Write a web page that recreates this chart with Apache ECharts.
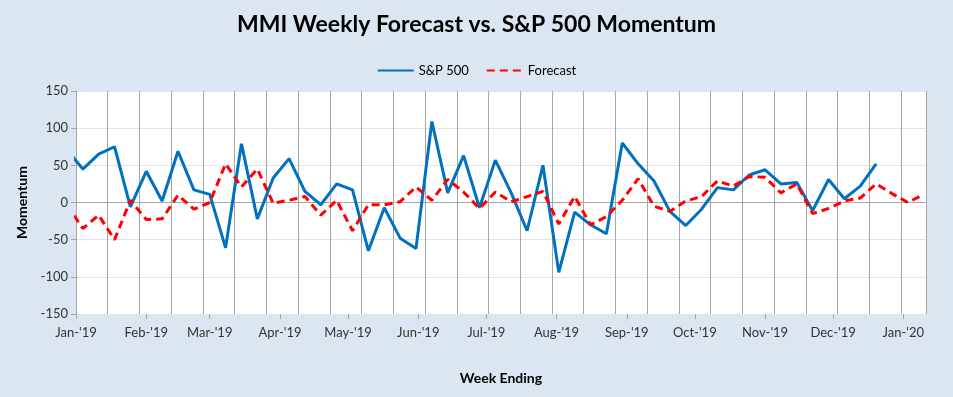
<!DOCTYPE html>
<html>
<head>
<meta charset="utf-8">
<script src="https://cdn.jsdelivr.net/npm/echarts@6/dist/echarts.min.js"></script>
<style>
  html, body { margin: 0; padding: 0; background: #dce6f2; }
  #chart { width: 953px; height: 397px; }
</style>
</head>
<body>
<div id="chart"></div>
<script>
// week ending dates (Fridays); first one sits just before the axis start and gets clipped
const weekDates = [
  '2018-12-28', '2019-01-04', '2019-01-11', '2019-01-18', '2019-01-25',
  '2019-02-01', '2019-02-08', '2019-02-15', '2019-02-22', '2019-03-01',
  '2019-03-08', '2019-03-15', '2019-03-22', '2019-03-29', '2019-04-05',
  '2019-04-12', '2019-04-19', '2019-04-26', '2019-05-03', '2019-05-10',
  '2019-05-17', '2019-05-24', '2019-05-31', '2019-06-07', '2019-06-14',
  '2019-06-21', '2019-06-28', '2019-07-05', '2019-07-12', '2019-07-19',
  '2019-07-26', '2019-08-02', '2019-08-09', '2019-08-16', '2019-08-23',
  '2019-08-30', '2019-09-06', '2019-09-13', '2019-09-20', '2019-09-27',
  '2019-10-04', '2019-10-11', '2019-10-18', '2019-10-25', '2019-11-01',
  '2019-11-08', '2019-11-15', '2019-11-22', '2019-11-29', '2019-12-06',
  '2019-12-13', '2019-12-20', '2019-12-27', '2020-01-03', '2020-01-10'
]

const spValues = [
  71, 45, 65, 75, -6, 42, 2, 69, 17, 11,
  -61, 79, -22, 33, 59, 15, -3, 25, 17, -65,
  -7, -48, -62, 109, 13, 63, -7, 57, 13, -38,
  50, -94, -13, -30, -42, 80, 52, 29, -12, -31,
  -9, 20, 17, 37, 44, 25, 27, -11, 31, 5,
  22, 52, null, null, null
]

const forecastValues = [
  -3, -35, -17, -50, 3, -23, -22, 10, -9, 0,
  52, 21, 45, -1, 3, 8, -17, 3, -38, -3,
  -3, 1, 21, 3, 31, 14, -8, 14, 1, 8,
  15, -29, 8, -30, -19, 3, 32, -5, -12, 2,
  8, 29, 22, 35, 34, 13, 25, -15, -8, 2,
  6, 25, 12, 0, 11
]

const monthStarts = [
  '2019-01-01', '2019-02-01', '2019-03-01', '2019-04-01', '2019-05-01',
  '2019-06-01', '2019-07-01', '2019-08-01', '2019-09-01', '2019-10-01',
  '2019-11-01', '2019-12-01', '2020-01-01'
]
const monthLabels = [
  "Jan-'19", "Feb-'19", "Mar-'19", "Apr-'19", "May-'19", "Jun-'19",
  "Jul-'19", "Aug-'19", "Sep-'19", "Oct-'19", "Nov-'19", "Dec-'19", "Jan-'20"
]

const axisStart = '2019-01-01'
const axisEndDay = 375

const dayOf = (d) => Math.round((Date.parse(d) - Date.parse(axisStart)) / 864e5)

const monthDays = monthStarts.map(dayOf)
const toPairs = (vals) => weekDates.map((d, i) => [dayOf(d), vals[i]])

const FONT = 'Lato, "Open Sans", sans-serif'

const chart = echarts.init(document.getElementById('chart'))

const option = {
  backgroundColor: '#dce6f2',
  animation: false,
  textStyle: { fontFamily: FONT },
  title: {
    text: 'MMI Weekly Forecast vs. S&P 500 Momentum',
    left: 'center',
    top: 8,
    textStyle: { fontFamily: FONT, fontSize: 23, fontWeight: 'bold', color: '#000' },
  },
  legend: {
    top: 59,
    left: 'center',
    itemWidth: 36,
    itemHeight: 12,
    itemGap: 17,
    itemStyle: { opacity: 0 },
    textStyle: { fontFamily: FONT, fontSize: 13, color: '#000' },
    data: ['S&P 500', 'Forecast'],
  },
  grid: {
    left: 76,
    right: 27,
    top: 91,
    bottom: 83,
    show: true,
    backgroundColor: '#fff',
    borderWidth: 0,
  },
  xAxis: [
    {
      // biweekly gridlines
      type: 'value',
      min: 0,
      max: axisEndDay,
      interval: 14,
      axisLine: { show: true, lineStyle: { color: '#a6a6a6', width: 1 } },
      axisTick: { show: false },
      axisLabel: { show: false },
      splitLine: { show: true, lineStyle: { color: '#a6a6a6', width: 1 } },
      name: 'Week Ending',
      nameLocation: 'middle',
      nameGap: 57,
      nameTextStyle: { fontFamily: FONT, fontSize: 14, fontWeight: 'bold', color: '#000' },
    },
    {
      // month labels
      type: 'value',
      position: 'bottom',
      min: 0,
      max: axisEndDay,
      axisLine: { show: false },
      axisTick: {
        show: true,
        customValues: monthDays,
        length: 5,
        lineStyle: { color: '#a6a6a6' },
      },
      axisLabel: {
        show: true,
        customValues: monthDays,
        margin: 12,
        fontFamily: FONT,
        fontSize: 13,
        color: '#333',
        formatter: (v) => monthLabels[monthDays.indexOf(v)],
      },
      splitLine: { show: false },
    },
  ],
  yAxis: {
    type: 'value',
    min: -150,
    max: 150,
    interval: 50,
    axisLine: { show: true, lineStyle: { color: '#a6a6a6' } },
    axisTick: { show: true, length: 5, lineStyle: { color: '#a6a6a6' } },
    axisLabel: { fontFamily: FONT, fontSize: 13, color: '#333', margin: 8 },
    splitLine: { lineStyle: { color: '#dce6f2', width: 1 } },
    name: 'Momentum',
    nameLocation: 'middle',
    nameGap: 46,
    nameTextStyle: { fontFamily: FONT, fontSize: 14, fontWeight: 'bold', color: '#000' },
  },
  series: [
    {
      name: 'S&P 500',
      type: 'line',
      xAxisIndex: 0,
      data: toPairs(spValues),
      symbol: 'none',
      connectNulls: false,
      color: '#0070c0',
      lineStyle: { color: '#0070c0', width: 3 },
    },
    {
      name: 'Forecast',
      type: 'line',
      xAxisIndex: 0,
      data: toPairs(forecastValues),
      symbol: 'none',
      color: '#ff0000',
      lineStyle: { color: '#ff0000', width: 3, type: [8, 5] },
    },
  ],
}

chart.setOption(option)
</script>
</body>
</html>
